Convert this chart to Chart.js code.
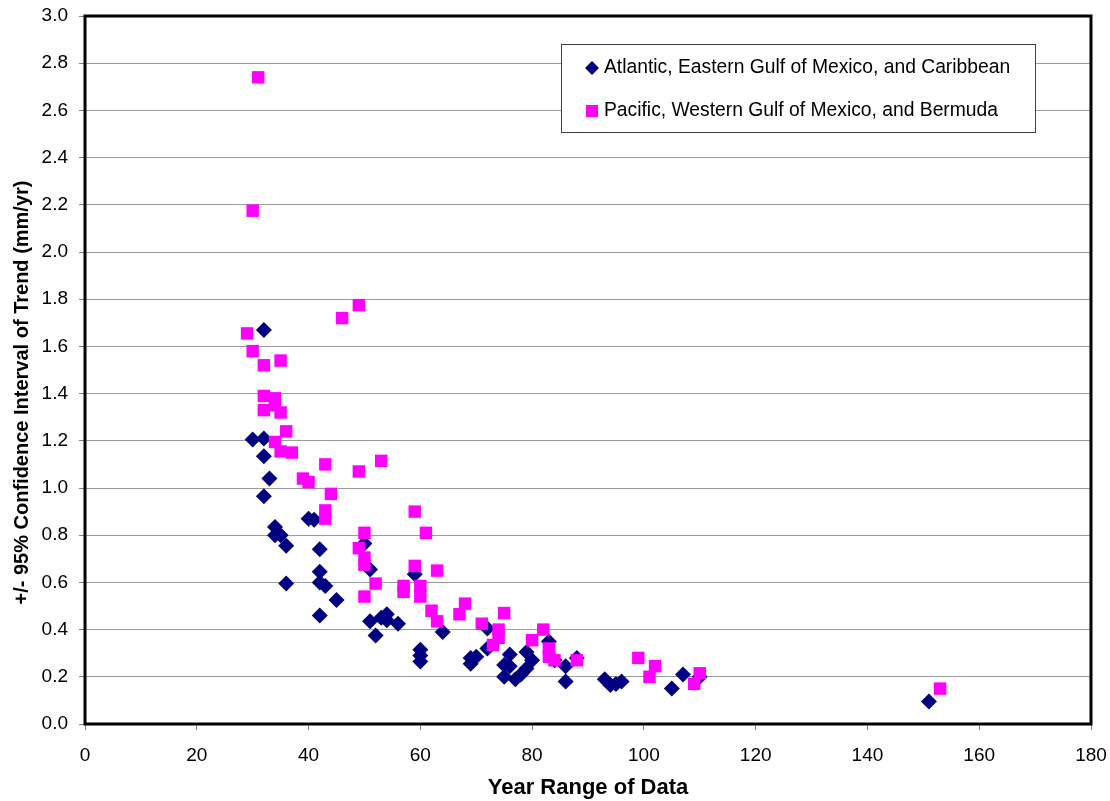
<!DOCTYPE html>
<html>
<head>
<meta charset="utf-8">
<script src="https://cdn.jsdelivr.net/npm/chart.js@4/dist/chart.umd.min.js"></script>
<style>
  html, body { margin: 0; padding: 0; background: #fff; }
  canvas { display: block; }
</style>
</head>
<body>
<canvas id="chart" width="1110" height="801"></canvas>
<script>
// Données : durée de la série (années) et intervalle de confiance (mm/an)
const atlanticYears = [32, 30, 32, 32, 33, 32, 34, 34, 35, 36, 36, 40, 41, 42, 42, 42, 43, 42, 45,
  50, 51, 51, 52, 53, 54, 54, 56, 59, 60, 60, 60, 64, 69, 69, 70, 72, 72, 75, 75, 76, 76, 77, 78,
  79, 79, 80, 83, 84, 86, 86, 88, 93, 94, 95, 96, 105, 107, 110, 151];
const atlanticCI = [1.67, 1.205, 1.21, 1.135, 1.04, 0.965, 0.835, 0.80, 0.80, 0.755, 0.595, 0.87,
  0.865, 0.74, 0.645, 0.60, 0.585, 0.46, 0.525, 0.765, 0.655, 0.435, 0.375, 0.45, 0.465, 0.44,
  0.425, 0.635, 0.315, 0.29, 0.265, 0.39, 0.28, 0.255, 0.285, 0.405, 0.32, 0.25, 0.20, 0.295,
  0.245, 0.19, 0.21, 0.235, 0.305, 0.27, 0.35, 0.27, 0.245, 0.18, 0.28, 0.19, 0.165, 0.17, 0.18,
  0.15, 0.21, 0.20, 0.095];

const pacificYears = [31, 30, 29, 30, 32, 35, 32, 32, 34, 34, 35, 36, 34, 35, 37, 39, 40, 43, 44,
  43, 43, 46, 49, 49, 53, 50, 49, 50, 50, 50, 52, 59, 61, 59, 60, 60, 57, 57, 63, 62, 63, 68, 67,
  71, 73, 74, 74, 75, 80, 82, 83, 83, 84, 88, 99, 101, 102, 109, 110, 153];
const pacificCI = [2.74, 2.175, 1.655, 1.58, 1.52, 1.54, 1.39, 1.33, 1.38, 1.35, 1.32, 1.24, 1.195,
  1.155, 1.15, 1.04, 1.025, 1.10, 0.975, 0.905, 0.87, 1.72, 1.775, 1.07, 1.115, 0.81, 0.745, 0.705,
  0.675, 0.54, 0.595, 0.90, 0.81, 0.67, 0.585, 0.54, 0.585, 0.56, 0.65, 0.48, 0.435, 0.51, 0.465,
  0.425, 0.335, 0.40, 0.365, 0.47, 0.355, 0.40, 0.32, 0.285, 0.27, 0.27, 0.28, 0.20, 0.245, 0.17,
  0.215, 0.15];

const seriesLabels = [
  'Atlantic, Eastern Gulf of Mexico, and Caribbean',
  'Pacific, Western Gulf of Mexico, and Bermuda'
];
const xTitle = 'Year Range of Data';
const yTitle = '+/- 95% Confidence Interval of Trend (mm/yr)';

const FONT = '"Liberation Sans", Arial, sans-serif';
const NAVY = '#000080';
const MAGENTA = '#FF00FF';
const GRID = '#9a9a9a';

// Transforme deux listes en points {x, y}
function toPoints(xs, ys) {
  return xs.map((x, i) => ({ x: x, y: ys[i] }));
}

// Cadre noir épais autour de la zone de tracé
const framePlugin = {
  id: 'frame',
  afterDraw(chart) {
    const { ctx, chartArea: a } = chart;
    ctx.save();
    ctx.strokeStyle = '#000';
    ctx.lineWidth = 3;
    ctx.strokeRect(a.left, a.top, a.right - a.left, a.bottom - a.top);
    ctx.restore();
  }
};

// Titre vertical : Excel le centre sur toute la hauteur du graphique, pas sur la zone de tracé
const yTitlePlugin = {
  id: 'yTitle',
  afterDraw(chart) {
    const { ctx, height } = chart;
    ctx.save();
    ctx.translate(22, height / 2 - 8);
    ctx.rotate(-Math.PI / 2);
    ctx.font = 'bold 20px ' + FONT;
    ctx.fillStyle = '#000';
    ctx.textAlign = 'center';
    ctx.textBaseline = 'middle';
    ctx.fillText(yTitle, 0, 0);
    ctx.restore();
  }
};

// Légende encadrée dans le coin haut droit (comme dans Excel)
const boxLegendPlugin = {
  id: 'boxLegend',
  afterDatasetsDraw(chart) {
    const { ctx, chartArea: a } = chart;
    const left = a.right - 530;
    const top = a.top + 28;
    const width = 474;
    const height = 88;

    ctx.save();
    ctx.fillStyle = '#fff';
    ctx.fillRect(left, top, width, height);
    ctx.strokeStyle = '#404040';
    ctx.lineWidth = 1;
    ctx.strokeRect(left + 0.5, top + 0.5, width, height);

    ctx.font = '19.3px ' + FONT;
    ctx.textBaseline = 'middle';

    const mx = left + 31;
    const rows = [top + 24, top + 67];

    // losange bleu marine
    ctx.fillStyle = NAVY;
    ctx.beginPath();
    ctx.moveTo(mx - 7, rows[0]);
    ctx.lineTo(mx, rows[0] - 7);
    ctx.lineTo(mx + 7, rows[0]);
    ctx.lineTo(mx, rows[0] + 7);
    ctx.closePath();
    ctx.fill();

    // carré magenta
    ctx.fillStyle = MAGENTA;
    ctx.fillRect(mx - 6, rows[1] - 6, 12, 12);

    ctx.fillStyle = '#000';
    ctx.fillText(seriesLabels[0], left + 43, rows[0]);
    ctx.fillText(seriesLabels[1], left + 43, rows[1]);
    ctx.restore();
  }
};

Chart.defaults.font.family = FONT;
Chart.defaults.color = '#000';

const ctx = document.getElementById('chart');

new Chart(ctx, {
  type: 'scatter',
  data: {
    datasets: [
      {
        label: seriesLabels[0],
        data: toPoints(atlanticYears, atlanticCI),
        pointStyle: 'rectRot',
        pointRadius: 8,
        backgroundColor: NAVY,
        borderWidth: 0,
        order: 1
      },
      {
        label: seriesLabels[1],
        data: toPoints(pacificYears, pacificCI),
        pointStyle: 'rect',
        pointRadius: 8.8,
        backgroundColor: MAGENTA,
        borderWidth: 0,
        order: 0
      }
    ]
  },
  options: {
    responsive: false,
    animation: false,
    layout: { padding: { left: 0, top: 16, right: 19, bottom: 0 } },
    plugins: {
      legend: { display: false },
      tooltip: { enabled: false }
    },
    scales: {
      x: {
        type: 'linear',
        min: 0,
        max: 180,
        afterFit(scale) {
          // hauteur fixe, pas de marge supplémentaire pour les libellés extrêmes
          scale.height = 77;
          scale.paddingLeft = 0;
          scale.paddingRight = 0;
        },
        border: { display: false },
        grid: {
          drawOnChartArea: false,
          drawTicks: true,
          tickLength: 6,
          tickColor: '#808080'
        },
        ticks: {
          stepSize: 20,
          padding: 14,
          maxRotation: 0,
          font: { size: 19 }
        },
        title: {
          display: true,
          text: xTitle,
          font: { size: 22, weight: 'bold' },
          padding: { top: 0, bottom: 0 }
        }
      },
      y: {
        min: 0,
        max: 3,
        afterFit(scale) {
          scale.width = 85;
          scale.paddingTop = 0;
          scale.paddingBottom = 0;
        },
        border: { display: false },
        grid: {
          color: GRID,
          lineWidth: 1,
          drawTicks: true,
          tickLength: 6,
          tickColor: '#808080'
        },
        ticks: {
          stepSize: 0.2,
          padding: 11,
          font: { size: 19 },
          callback: (value) => Number(value).toFixed(1)
        }
      }
    }
  },
  plugins: [boxLegendPlugin, yTitlePlugin, framePlugin]
});
</script>
</body>
</html>
